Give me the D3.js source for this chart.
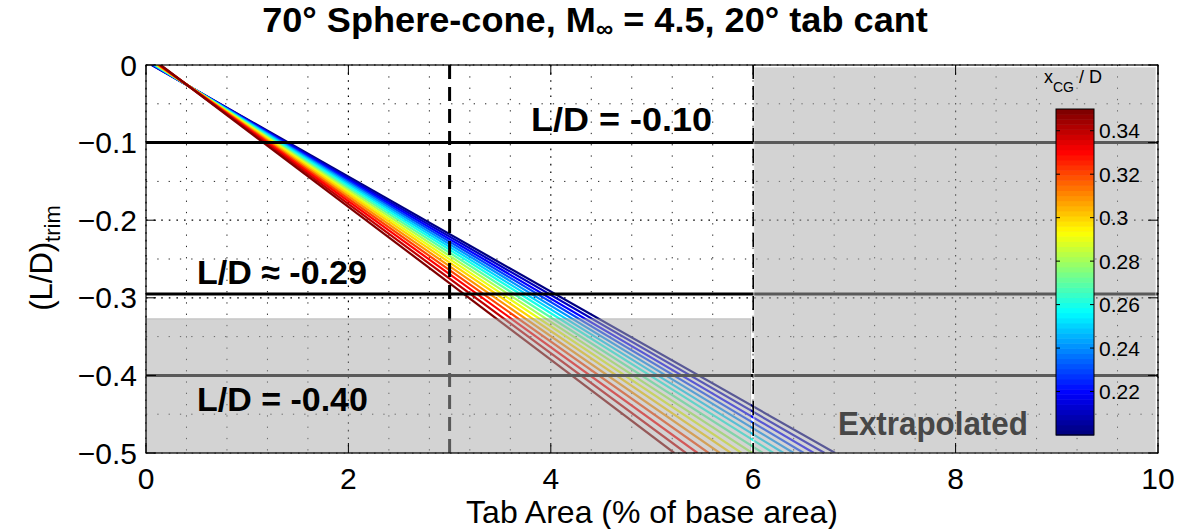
<!DOCTYPE html>
<html><head><meta charset="utf-8">
<script src="https://cdn.jsdelivr.net/npm/d3@7"></script>
<style>
body{margin:0;background:#fff}
svg{display:block}
text{font-family:"Liberation Sans",Arial,Helvetica,sans-serif}
</style>
</head><body>
<svg id="chart" width="1191" height="529"></svg>
<script>
// ---------------- data ----------------
const xcgValues = [0.20,0.21,0.22,0.23,0.24,0.25,0.26,0.27,0.28,0.29,0.30,0.31,0.32,0.33,0.34,0.35];
// tab area (% of base area) where (L/D)trim = 0
const startArea = [0.056,0.062,0.068,0.074,0.080,0.086,0.092,0.098,0.104,0.110,0.116,0.122,0.128,0.134,0.139,0.145];
// tab area (% of base area) where (L/D)trim = -0.5
const endArea = [6.81,6.705,6.60,6.50,6.40,6.30,6.20,6.095,5.99,5.885,5.78,5.67,5.56,5.45,5.335,5.22];
const xTicks = [0,2,4,6,8,10];
const yTicks = [0,-0.1,-0.2,-0.3,-0.4,-0.5];
const yTickLabels = ["0","\u22120.1","\u22120.2","\u22120.3","\u22120.4","\u22120.5"];
const refLevels = [-0.10,-0.295,-0.40];
const refLabels = ["L/D = -0.10","L/D \u2248 -0.29","L/D = -0.40"];
const refTabArea = 3;
const extrapArea = 6;
const shadedLD = -0.327;
const cbDomain = [0.20,0.35];
const cbTicks = [0.22,0.24,0.26,0.28,0.30,0.32,0.34];
const cbTickLabels = ["0.22","0.24","0.26","0.28","0.3","0.32","0.34"];

// ---------------- layout ----------------
const svg = d3.select("#chart");
const X0 = 146, X1 = 1158, Y0 = 65, Y1 = 453;
const x = d3.scaleLinear().domain([0,10]).range([X0,X1]);
const y = d3.scaleLinear().domain([-0.5,0]).range([Y1,Y0]);

function jet(t){
  const c = v => Math.max(0, Math.min(1, v));
  const r = c(1.5 - Math.abs(4*t - 3));
  const g = c(1.5 - Math.abs(4*t - 2));
  const b = c(1.5 - Math.abs(4*t - 1));
  return d3.rgb(r*255, g*255, b*255).toString();
}
const N = 64;
function cmap(v){
  let i = Math.floor((v - cbDomain[0])/(cbDomain[1]-cbDomain[0]) * N);
  i = Math.max(0, Math.min(N-1, i));
  return jet(i/(N-1));
}
function fitWidth(sel, target, ax){
  const w = sel.node().getBBox().width;
  const s = target / w;
  sel.attr("transform", `translate(${ax},0) scale(${s},1) translate(${-ax},0)`);
}

svg.append("defs").append("clipPath").attr("id","clip")
  .append("rect").attr("x",X0).attr("y",Y0).attr("width",X1-X0).attr("height",Y1-Y0);

// grid
const gGrid = svg.append("g");
const xMinor = d3.range(0, 10.001, 0.4).filter(v => Math.abs(v/2 - Math.round(v/2)) > 1e-6);
const yMinor = d3.range(-0.45, 0, 0.1);
gGrid.selectAll(".xm").data(xMinor).join("line")
  .attr("x1", d => x(d)).attr("x2", d => x(d)).attr("y1", Y0).attr("y2", Y1)
  .attr("stroke","#222").attr("stroke-width",1).attr("stroke-dasharray","1.3,10");
gGrid.selectAll(".ym").data(yMinor).join("line")
  .attr("x1", X0).attr("x2", X1).attr("y1", d => y(d)).attr("y2", d => y(d))
  .attr("stroke","#222").attr("stroke-width",1).attr("stroke-dasharray","1.3,10");
gGrid.selectAll(".xM").data(xTicks).join("line")
  .attr("x1", d => x(d)).attr("x2", d => x(d)).attr("y1", Y0).attr("y2", Y1)
  .attr("stroke","#000").attr("stroke-width",1.2).attr("stroke-dasharray","1.6,6");
gGrid.selectAll(".yM").data(yTicks).join("line")
  .attr("x1", X0).attr("x2", X1).attr("y1", d => y(d)).attr("y2", d => y(d))
  .attr("stroke","#000").attr("stroke-width",1.2).attr("stroke-dasharray","1.6,6");

// trim lines
const line = d3.line().x(d => x(d[0])).y(d => y(d[1]));
svg.append("g").attr("clip-path","url(#clip)")
  .selectAll("path").data(xcgValues).join("path")
  .attr("d", (d,i) => line([[startArea[i],0],[endArea[i],-0.5]]))
  .attr("fill","none").attr("stroke", d => cmap(d)).attr("stroke-width",2.2);

// reference horizontal lines
svg.append("g").selectAll("line").data(refLevels).join("line")
  .attr("x1", X0).attr("x2", X1).attr("y1", d => y(d)).attr("y2", d => y(d))
  .attr("stroke","#000").attr("stroke-width",3);
// x = 3 dashed
svg.append("line").attr("x1", x(refTabArea)).attr("x2", x(refTabArea)).attr("y1",Y0).attr("y2",Y1)
  .attr("stroke","#000").attr("stroke-width",3).attr("stroke-dasharray","14,8");

// grey overlays
svg.append("rect").attr("x", X0).attr("y", y(shadedLD)).attr("width", x(5.975)-X0).attr("height", Y1 - y(shadedLD))
  .attr("fill","rgb(170,170,170)").attr("fill-opacity",0.52)
  .attr("stroke","rgba(120,120,120,0.35)").attr("stroke-width",1);
svg.append("rect").attr("x", x(extrapArea)+0.5).attr("y", Y0+2).attr("width", X1-2-(x(extrapArea)+0.5)).attr("height", Y1-Y0-2)
  .attr("fill","rgb(170,170,170)").attr("fill-opacity",0.52)
  .attr("stroke","rgba(255,255,255,0.45)").attr("stroke-width",1.5);

// x = 6 dashed
svg.append("line").attr("x1", x(extrapArea)).attr("x2", x(extrapArea)).attr("y1",Y0).attr("y2",Y1)
  .attr("stroke","#000").attr("stroke-width",1.6).attr("stroke-dasharray","14,7");

// axes box & ticks
const gAx = svg.append("g");
gAx.append("rect").attr("x",X0).attr("y",Y0).attr("width",X1-X0).attr("height",Y1-Y0)
  .attr("fill","none").attr("stroke","#000").attr("stroke-width",1.2);
gAx.selectAll(".tb").data(xTicks).join("line")
  .attr("x1", d => x(d)).attr("x2", d => x(d)).attr("y1", Y1).attr("y2", Y1-10).attr("stroke","#000");
gAx.selectAll(".tt").data(xTicks).join("line")
  .attr("x1", d => x(d)).attr("x2", d => x(d)).attr("y1", Y0).attr("y2", Y0+10).attr("stroke","#000");
gAx.selectAll(".tl").data(yTicks).join("line")
  .attr("x1", X0).attr("x2", X0+10).attr("y1", d => y(d)).attr("y2", d => y(d)).attr("stroke","#000");
gAx.selectAll(".tr").data(yTicks).join("line")
  .attr("x1", X1).attr("x2", X1-10).attr("y1", d => y(d)).attr("y2", d => y(d)).attr("stroke","#000");

// tick labels
gAx.selectAll(".xl").data(xTicks).join("text")
  .attr("x", d => x(d)).attr("y", 489).attr("text-anchor","middle")
  .attr("font-size",30).text(d => d);
gAx.selectAll(".yl").data(yTicks).join("text")
  .attr("x", 137).attr("y", d => y(d) + 10.5).attr("text-anchor","end")
  .attr("font-size",30).text((d,i) => yTickLabels[i]);

// axis labels
svg.append("text").attr("x", 652).attr("y", 523).attr("text-anchor","middle")
  .attr("font-size",32).text("Tab Area (% of base area)");
const ylab = svg.append("g").attr("transform","translate(52,258) rotate(-90)");
const yt = ylab.append("text").attr("x",0).attr("y",0).attr("text-anchor","middle").attr("font-size",31);
yt.append("tspan").text("(L/D)");
yt.append("tspan").attr("font-size",22).attr("dy",8).text("trim");

// title
const title = svg.append("text").attr("x",595).attr("y",32).attr("text-anchor","middle")
  .attr("font-size",36).attr("font-weight","bold");
title.append("tspan").text("70\u00B0 Sphere-cone, M");
title.append("tspan").attr("font-size",24).attr("dy",5).text("\u221E");
title.append("tspan").attr("dy",-5).text(" = 4.5, 20\u00B0 tab cant");
fitWidth(title, 666, 595);

// annotations
const a1 = svg.append("text").attr("x",531).attr("y",131).attr("font-size",34).attr("font-weight","bold").text(refLabels[0]);
fitWidth(a1, 181, 531);
const a2 = svg.append("text").attr("x",197).attr("y",284).attr("font-size",34).attr("font-weight","bold").text(refLabels[1]);
fitWidth(a2, 170, 197);
const a3 = svg.append("text").attr("x",197).attr("y",411).attr("font-size",34).attr("font-weight","bold").text(refLabels[2]);
fitWidth(a3, 171, 197);
const a4 = svg.append("text").attr("x",838).attr("y",435).attr("font-size",34).attr("font-weight","bold")
  .attr("fill","#474747").text("Extrapolated");
fitWidth(a4, 190, 838);

// colorbar
const CB = {x0:1056, x1:1094, y0:109, y1:435};
const cy = d3.scaleLinear().domain(cbDomain).range([CB.y1, CB.y0]);
const gCb = svg.append("g");
const bands = d3.range(N);
gCb.selectAll("rect.band").data(bands).join("rect")
  .attr("x", CB.x0).attr("width", CB.x1-CB.x0)
  .attr("y", i => cy(cbDomain[0] + (i+1)*(cbDomain[1]-cbDomain[0])/N))
  .attr("height", (CB.y1-CB.y0)/N + 0.5)
  .attr("fill", i => jet(i/(N-1)));
gCb.append("rect").attr("x",CB.x0).attr("y",CB.y0).attr("width",CB.x1-CB.x0).attr("height",CB.y1-CB.y0)
  .attr("fill","none").attr("stroke","#000").attr("stroke-width",1);
gCb.selectAll(".cbl").data(cbTicks).join("line")
  .attr("x1",CB.x0).attr("x2",CB.x0+4).attr("y1",d=>cy(d)).attr("y2",d=>cy(d)).attr("stroke","#000");
gCb.selectAll(".cbr").data(cbTicks).join("line")
  .attr("x1",CB.x1).attr("x2",CB.x1-4).attr("y1",d=>cy(d)).attr("y2",d=>cy(d)).attr("stroke","#000");
gCb.selectAll(".cbt").data(cbTicks).join("text")
  .attr("x",1099).attr("y",d=>cy(d)+7.5).attr("font-size",21).text((d,i)=>cbTickLabels[i]);
const cbt = gCb.append("text").attr("x",1044).attr("y",83).attr("font-size",18);
cbt.append("tspan").text("x");
cbt.append("tspan").attr("font-size",14).attr("dy",9).text("CG");
cbt.append("tspan").attr("dy",-9).text(" / D");
</script>
</body></html>
